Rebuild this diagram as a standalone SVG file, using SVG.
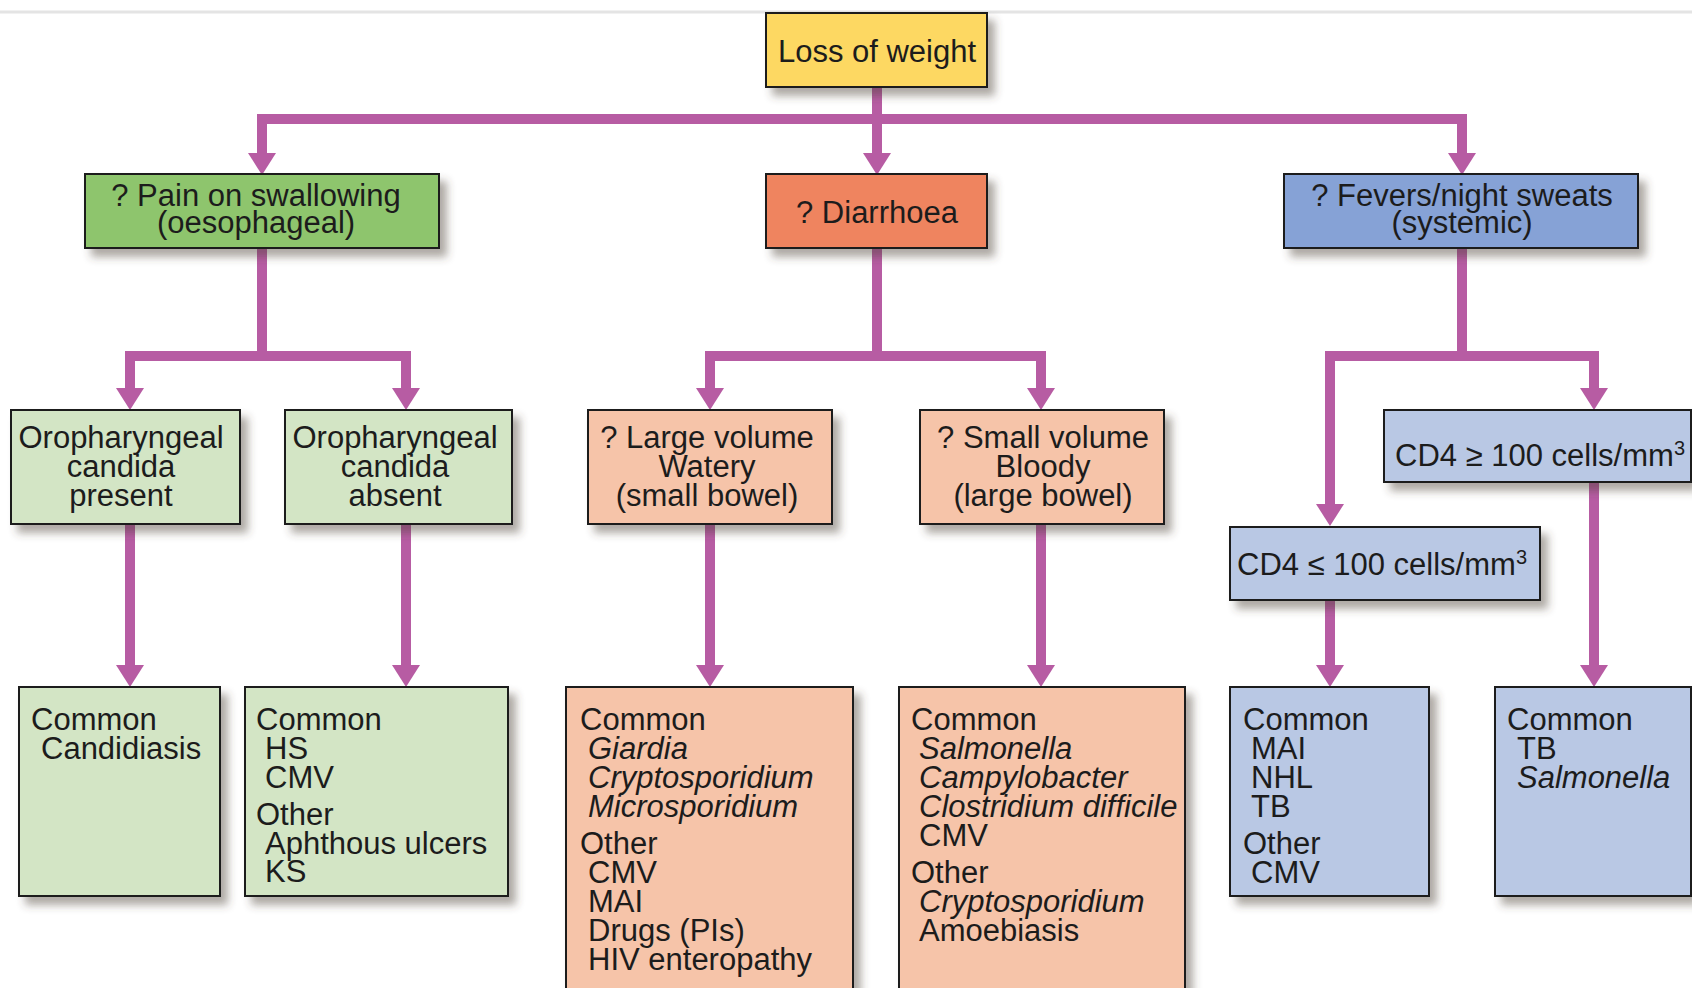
<svg xmlns="http://www.w3.org/2000/svg" width="1692" height="988" viewBox="0 0 1692 988">
<style>
text{font-family:"Liberation Sans",Arial,sans-serif;font-size:31px;fill:#1c1c1c}
.c{text-anchor:middle}
.i{font-style:italic}
.box{stroke:#1e1e1e;stroke-width:2;filter:url(#sh)}
.yel{fill:#FDD862}.grn{fill:#8EC56D}.org{fill:#EF845E}.blu{fill:#86A2D6}
.lg{fill:#D3E5C5}.ls{fill:#F6C4A9}.lb{fill:#B9C8E4}
.con{fill:none;stroke:#B75CA3;stroke-width:10;stroke-linejoin:miter}
</style>
<defs>
<filter id="sh" x="-10%" y="-10%" width="130%" height="140%">
<feDropShadow dx="7" dy="8" stdDeviation="4" flood-color="#4a4030" flood-opacity="0.45"/>
</filter>
<marker id="ah" markerUnits="userSpaceOnUse" viewBox="0 0 22 28" markerWidth="22" markerHeight="28" refX="0" refY="14" orient="auto">
<path d="M0,0 L22,14 L0,28 Z" fill="#B75CA3"/>
</marker>
</defs>
<rect width="1692" height="988" fill="#ffffff"/>
<line x1="0" y1="12" x2="1692" y2="12" stroke="#e4e4e4" stroke-width="3"/>
<g id="connectors">
<path class="con" d="M877,87 V119"/>
<path class="con" d="M262,119 H1462"/>
<path class="con" d="M262,114 V153" marker-end="url(#ah)"/>
<path class="con" d="M877,119 V153" marker-end="url(#ah)"/>
<path class="con" d="M1462,114 V153" marker-end="url(#ah)"/>
<path class="con" d="M262,248 V356"/>
<path class="con" d="M130,356 H406"/>
<path class="con" d="M130,351 V388" marker-end="url(#ah)"/>
<path class="con" d="M406,351 V388" marker-end="url(#ah)"/>
<path class="con" d="M877,248 V356"/>
<path class="con" d="M710,356 H1041"/>
<path class="con" d="M710,351 V388" marker-end="url(#ah)"/>
<path class="con" d="M1041,351 V388" marker-end="url(#ah)"/>
<path class="con" d="M1462,248 V356"/>
<path class="con" d="M1330,356 H1594"/>
<path class="con" d="M1330,351 V504" marker-end="url(#ah)"/>
<path class="con" d="M1594,351 V388" marker-end="url(#ah)"/>
<path class="con" d="M130,524 V665" marker-end="url(#ah)"/>
<path class="con" d="M406,524 V665" marker-end="url(#ah)"/>
<path class="con" d="M710,524 V665" marker-end="url(#ah)"/>
<path class="con" d="M1041,524 V665" marker-end="url(#ah)"/>
<path class="con" d="M1330,600 V665" marker-end="url(#ah)"/>
<path class="con" d="M1594,482 V665" marker-end="url(#ah)"/>
</g>
<g id="loss">
<rect class="box yel" x="766" y="13" width="221" height="74"/>
<text class="c" x="877" y="62">Loss of weight</text>
</g>
<g id="pain">
<rect class="box grn" x="85" y="174" width="354" height="74"/>
<text class="c" x="256" y="206">? Pain on swallowing</text>
<text class="c" x="256" y="233">(oesophageal)</text>
</g>
<g id="diarrhoea">
<rect class="box org" x="766" y="174" width="221" height="74"/>
<text class="c" x="877" y="223">? Diarrhoea</text>
</g>
<g id="fevers">
<rect class="box blu" x="1284" y="174" width="354" height="74"/>
<text class="c" x="1462" y="206">? Fevers/night sweats</text>
<text class="c" x="1462" y="233">(systemic)</text>
</g>
<g id="oro-present">
<rect class="box lg" x="11" y="410" width="229" height="114"/>
<text class="c" x="121" y="448">Oropharyngeal</text>
<text class="c" x="121" y="477">candida</text>
<text class="c" x="121" y="506">present</text>
</g>
<g id="oro-absent">
<rect class="box lg" x="285" y="410" width="227" height="114"/>
<text class="c" x="395" y="448">Oropharyngeal</text>
<text class="c" x="395" y="477">candida</text>
<text class="c" x="395" y="506">absent</text>
</g>
<g id="large-volume">
<rect class="box ls" x="588" y="410" width="244" height="114"/>
<text class="c" x="707" y="448">? Large volume</text>
<text class="c" x="707" y="477">Watery</text>
<text class="c" x="707" y="506">(small bowel)</text>
</g>
<g id="small-volume">
<rect class="box ls" x="920" y="410" width="244" height="114"/>
<text class="c" x="1043" y="448">? Small volume</text>
<text class="c" x="1043" y="477">Bloody</text>
<text class="c" x="1043" y="506">(large bowel)</text>
</g>
<g id="cd4-high">
<rect class="box lb" x="1384" y="410" width="307" height="72"/>
<text x="1395" y="466">CD4 ≥ 100 cells/mm<tspan dy="-11" font-size="20">3</tspan></text>
</g>
<g id="cd4-low">
<rect class="box lb" x="1230" y="527" width="310" height="73"/>
<text x="1237" y="575">CD4 ≤ 100 cells/mm<tspan dy="-11" font-size="20">3</tspan></text>
</g>
<g id="candidiasis">
<rect class="box lg" x="19" y="687" width="201" height="209"/>
<text x="31" y="730">Common</text>
<text x="41" y="759">Candidiasis</text>
</g>
<g id="oesophageal-other">
<rect class="box lg" x="245" y="687" width="263" height="209"/>
<text x="256" y="730">Common</text>
<text x="265" y="759">HS</text>
<text x="265" y="788">CMV</text>
<text x="256" y="825">Other</text>
<text x="265" y="854">Aphthous ulcers</text>
<text x="265" y="882">KS</text>
</g>
<g id="small-bowel-causes">
<rect class="box ls" x="566" y="687" width="287" height="320"/>
<text x="580" y="730">Common</text>
<text class="i" x="588" y="759">Giardia</text>
<text class="i" x="588" y="788">Cryptosporidium</text>
<text class="i" x="588" y="817">Microsporidium</text>
<text x="580" y="854">Other</text>
<text x="588" y="883">CMV</text>
<text x="588" y="912">MAI</text>
<text x="588" y="941">Drugs (PIs)</text>
<text x="588" y="970">HIV enteropathy</text>
</g>
<g id="large-bowel-causes">
<rect class="box ls" x="899" y="687" width="286" height="320"/>
<text x="911" y="730">Common</text>
<text class="i" x="919" y="759">Salmonella</text>
<text class="i" x="919" y="788">Campylobacter</text>
<text class="i" x="919" y="817">Clostridium difficile</text>
<text x="919" y="846">CMV</text>
<text x="911" y="883">Other</text>
<text class="i" x="919" y="912">Cryptosporidium</text>
<text x="919" y="941">Amoebiasis</text>
</g>
<g id="low-cd4-causes">
<rect class="box lb" x="1230" y="687" width="199" height="209"/>
<text x="1243" y="730">Common</text>
<text x="1251" y="759">MAI</text>
<text x="1251" y="788">NHL</text>
<text x="1251" y="817">TB</text>
<text x="1243" y="854">Other</text>
<text x="1251" y="883">CMV</text>
</g>
<g id="high-cd4-causes">
<rect class="box lb" x="1495" y="687" width="196" height="209"/>
<text x="1507" y="730">Common</text>
<text x="1517" y="759">TB</text>
<text class="i" x="1517" y="788">Salmonella</text>
</g>
</svg>
